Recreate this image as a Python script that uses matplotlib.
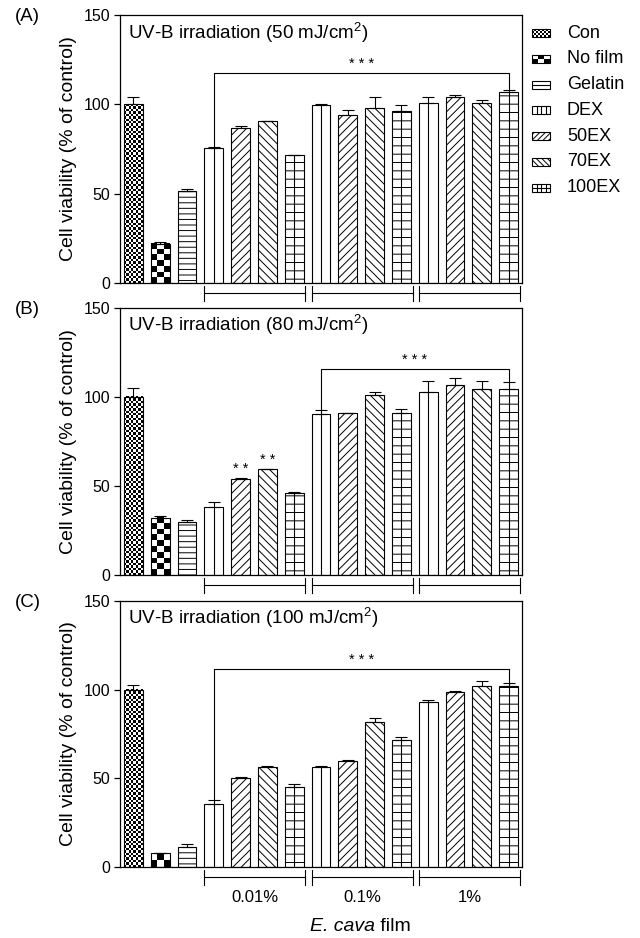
"""
Cell viability after UV-B irradiation, three doses, E. cava films.
"""

import matplotlib
matplotlib.use("Agg")
import matplotlib.pyplot as plt
import numpy as np
from matplotlib.patches import Rectangle

plt.rcParams["font.family"] = ["Liberation Sans", "DejaVu Sans"]
plt.rcParams["mathtext.fontset"] = "custom"
plt.rcParams["mathtext.rm"] = "Liberation Sans"
plt.rcParams["mathtext.it"] = "Liberation Sans:italic"
plt.rcParams["hatch.linewidth"] = 0.7
plt.rcParams["axes.linewidth"] = 0.9

# ----- datos -----
LEGEND_LABELS = ["Con", "No film", "Gelatin", "DEX", "50EX", "70EX", "100EX"]
BAR_CATEGORY = ["Con", "No film", "Gelatin",
                "DEX", "50EX", "70EX", "100EX",
                "DEX", "50EX", "70EX", "100EX",
                "DEX", "50EX", "70EX", "100EX"]
GROUP_LABELS = ["0.01%", "0.1%", "1%"]
GROUP_BARS = [(3, 6), (7, 10), (11, 14)]

DOSES = ["50", "80", "100"]
PANEL_TAGS = ["(A)", "(B)", "(C)"]

vals_a = [100, 22, 51.5, 75.5, 87, 90.5, 71.5, 99.6, 94, 98, 96.5, 100.5, 104, 100.5, 106.7]
err_a = [4, 1.1, 1.3, 0.8, 0.8, 0.3, 0, 0.6, 2.6, 6.2, 3.2, 3.8, 1.1, 2, 1.3]
vals_b = [100, 32.2, 29.6, 38.4, 53.8, 59.6, 45.9, 90.3, 90.8, 101, 90.8, 102.8, 106.9, 104.3, 104.3]
err_b = [5, 0.9, 1.2, 2.6, 0.9, 0.2, 0.9, 2.6, 0.3, 2, 2.6, 6.2, 4, 4.7, 4.3]
vals_c = [100, 7.7, 11.1, 35.7, 50, 56.4, 45.3, 56.6, 59.8, 81.8, 71.8, 92.9, 98.5, 102.1, 101.9]
err_c = [2.7, 0.3, 1.9, 2.3, 0.8, 0.3, 1.3, 0.6, 0.7, 2.4, 1.7, 1.3, 0.9, 2.6, 2]

# corchete de significancia: (barra inicio, barra fin, altura, texto)
sig_a = (3, 14, 117.5, "* * *")
sig_b = (7, 14, 115.7, "* * *")
sig_c = (3, 14, 111.7, "* * *")
# asteriscos sueltos sobre barras (panel B)
star_bars_b = [4, 5]

STYLE = {
    "Con":     dict(hatch=None, checker=2.4, mid=False),
    "No film": dict(hatch=None, checker=6.0, mid=False),
    "Gelatin": dict(hatch="---", checker=None, mid=False),
    "DEX":     dict(hatch=None, checker=None, mid=True),
    "50EX":    dict(hatch="////", checker=None, mid=False),
    "70EX":    dict(hatch="\\\\\\\\", checker=None, mid=False),
    "100EX":   dict(hatch="--", checker=None, mid=True),
}

W, H = 640, 938
BAR_W = 0.7
FS_TICK = 11.5
FS_TEXT = 13.5


def checker_img(ax, x0, x1, y0, y1, cell_px, zorder=1.5):
    p0 = ax.transData.transform((x0, y0))
    p1 = ax.transData.transform((x1, y1))
    nx = max(1, int(round(abs(p1[0] - p0[0]) / cell_px)))
    ny = max(1, int(round(abs(p1[1] - p0[1]) / cell_px)))
    arr = np.add.outer(np.arange(ny), np.arange(nx)) % 2
    ax.imshow(arr, extent=(x0, x1, y0, y1), cmap="gray", interpolation="nearest",
              aspect="auto", origin="lower", zorder=zorder, vmin=0, vmax=1)


def draw_panel(ax, vals, errs, dose, tag, sig, star_bars=(), bottom_labels=False):
    x = np.arange(len(vals))
    ax.set_xlim(-0.5, 14.5)
    ax.set_ylim(0, 150)

    for xi, v, cat in zip(x, vals, BAR_CATEGORY):
        st = STYLE[cat]
        ax.bar(xi, v, width=BAR_W, facecolor="white" if st["checker"] is None else "none",
               edgecolor="black", linewidth=0.8, hatch=st["hatch"], zorder=2)
        if st["checker"] is not None:
            checker_img(ax, xi - BAR_W / 2, xi + BAR_W / 2, 0, v, st["checker"])
        if st["mid"]:
            ax.vlines(xi, 0, v, color="black", linewidth=0.8, zorder=3)

    ax.errorbar(x, vals, yerr=[np.zeros(len(errs)), errs], fmt="none", ecolor="black",
                elinewidth=0.8, capsize=4.5, capthick=0.8, zorder=4)

    # corchete de significancia
    i0, i1, yb, txt = sig
    ax.plot([i0, i0, i1, i1],
            [vals[i0] + errs[i0], yb, yb, vals[i1] + errs[i1]],
            color="black", linewidth=0.8, zorder=4)
    ax.text((i0 + i1) / 2, yb + 5, txt, ha="center", va="center", fontsize=10.5)
    for i in star_bars:
        ax.text(i, vals[i] + errs[i] + 5, "* *", ha="center", va="center", fontsize=10.5)

    ax.text(0.02, 0.912, f"UV-B irradiation ({dose} mJ/cm$^2$)",
            transform=ax.transAxes, ha="left", va="baseline", fontsize=FS_TEXT)
    ax.text(-0.262, 0.978, tag, transform=ax.transAxes, ha="left", va="baseline",
            fontsize=FS_TEXT)

    ax.set_yticks([0, 50, 100, 150])
    ax.tick_params(axis="y", direction="out", length=4, width=0.9, labelsize=FS_TICK, pad=3)
    ax.tick_params(axis="x", bottom=False, labelbottom=False)
    ax.set_ylabel("Cell viability (% of control)", fontsize=14)
    ax.yaxis.set_label_coords(-0.108, 0.5)

    # corchetes de grupo bajo el eje
    tr = ax.get_xaxis_transform()
    for (a, b), lab in zip(GROUP_BARS, GROUP_LABELS):
        s, e = a - 0.35, b + 0.42
        ax.plot([s, e], [-0.038, -0.038], color="black", lw=0.8, transform=tr, clip_on=False)
        ax.plot([s, s], [-0.012, -0.068], color="black", lw=0.8, transform=tr, clip_on=False)
        ax.plot([e, e], [-0.012, -0.068], color="black", lw=0.8, transform=tr, clip_on=False)
        if bottom_labels:
            ax.text((s + e) / 2, -0.113, lab, transform=tr, ha="center", va="center",
                    fontsize=12)
    if bottom_labels:
        t1 = ax.text(GROUP_BARS[0][0] + 3.6, -0.225, "E. cava", fontstyle="italic",
                     transform=tr, ha="left", va="center", fontsize=14)
        ax.annotate(" film", xy=(1, 0), xycoords=t1, ha="left", va="bottom", fontsize=14)

    ax.set_xlim(-0.5, 14.5)
    ax.set_ylim(0, 150)


def draw_legend(fig):
    lax = fig.add_axes([0, 0, 1, 1], facecolor="none")
    lax.set_xlim(0, W)
    lax.set_ylim(H, 0)
    lax.axis("off")
    x0, pw, ph = 532, 18, 8
    for k, lab in enumerate(LEGEND_LABELS):
        yc = 33 + k * 25.8
        y0, y1 = yc - ph / 2, yc + ph / 2
        st = STYLE[lab]
        hatch = {"50EX": "//////", "70EX": "\\\\\\\\\\\\"}.get(lab)
        if st["checker"] is not None:
            if lab == "Con":
                nx, ny = 9, 4
            else:
                nx, ny = 3, 2
            arr = np.add.outer(np.arange(ny), np.arange(nx)) % 2
            lax.imshow(arr, extent=(x0, x0 + pw, y1, y0), cmap="gray", interpolation="nearest",
                       aspect="auto", origin="lower", vmin=0, vmax=1, zorder=1)
        lax.add_patch(Rectangle((x0, y0), pw, ph, facecolor="none", edgecolor="black",
                                linewidth=0.8, hatch=hatch, zorder=2))
        if lab == "Gelatin":
            lax.hlines(yc, x0, x0 + pw, color="black", lw=0.8)
        if lab in ("DEX", "100EX"):
            for j in range(1, 4):
                lax.vlines(x0 + pw * j / 4, y0, y1, color="black", lw=0.8)
        if lab == "100EX":
            lax.hlines(yc, x0, x0 + pw, color="black", lw=0.8)
        lax.text(567, yc, lab, ha="left", va="center", fontsize=13)
    lax.set_xlim(0, W)
    lax.set_ylim(H, 0)


def ax_rect(top, bottom, left=120, right=522):
    return [left / W, 1 - bottom / H, (right - left) / W, (bottom - top) / H]


def main():
    fig = plt.figure(figsize=(W / 100, H / 100), dpi=100)
    ax_a = fig.add_axes(ax_rect(15, 283))
    ax_b = fig.add_axes(ax_rect(308, 575))
    ax_c = fig.add_axes(ax_rect(601, 867))

    draw_panel(ax_a, vals_a, err_a, DOSES[0], PANEL_TAGS[0], sig_a)
    draw_panel(ax_b, vals_b, err_b, DOSES[1], PANEL_TAGS[1], sig_b, star_bars=star_bars_b)
    draw_panel(ax_c, vals_c, err_c, DOSES[2], PANEL_TAGS[2], sig_c, bottom_labels=True)
    draw_legend(fig)

    fig.savefig("out.png", dpi=100)
    plt.close(fig)


if __name__ == "__main__":
    main()
